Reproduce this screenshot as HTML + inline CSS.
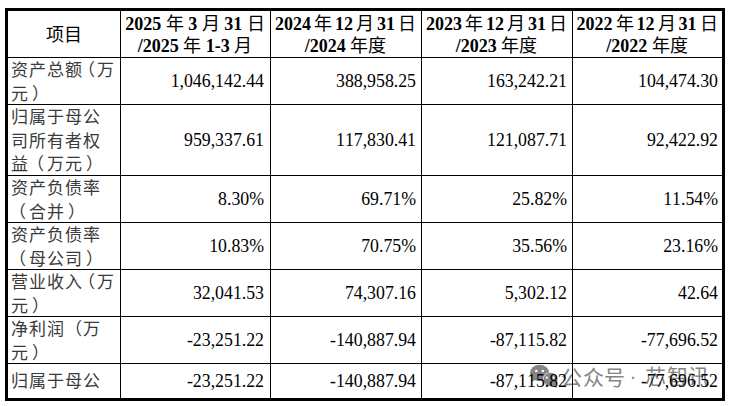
<!DOCTYPE html>
<html lang="zh-CN"><head><meta charset="utf-8">
<style>
html,body{margin:0;padding:0;background:#fff;width:730px;height:406px;overflow:hidden;position:relative}
body{font-family:"Liberation Serif",serif;color:#000}
.b{position:absolute;background:#000}
.n{position:absolute;white-space:pre;font-size:17.8px;font-kerning:none;line-height:20px;text-align:right;width:160px}
.l{position:absolute;left:11px;font-size:17px;letter-spacing:1px;line-height:24px;white-space:pre;color:#3a3a3a}
.p{margin-right:-4px;position:relative;left:-5px}
.po{position:relative;left:-2px}
.pc{position:relative;left:3px}
.wm{position:absolute;font-family:"Liberation Sans",sans-serif;color:#858585;font-size:21px;line-height:24px;white-space:pre}
.h{position:absolute;font-weight:bold;font-size:18px;line-height:22px;text-align:center;white-space:pre;word-spacing:0px}
.hc{font-weight:normal;font-size:18px}
</style></head><body>

<svg style="position:absolute;left:0;top:0" width="730" height="406" viewBox="0 0 730 406">
<ellipse cx="539.6" cy="373" rx="9.6" ry="8.2" fill="#858585"/>
<path d="M532.5 377 L531 382 L536.5 379.5 Z" fill="#858585"/>
<circle cx="536.3" cy="371" r="1.3" fill="#fff"/><circle cx="542.9" cy="371" r="1.3" fill="#fff"/>
<ellipse cx="550.5" cy="379.5" rx="7.6" ry="7.2" fill="#fff"/>
<ellipse cx="550.5" cy="379.5" rx="7" ry="6.7" fill="#858585"/>
<path d="M555 384 L557 388 L552 386 Z" fill="#858585"/>
<circle cx="546.8" cy="377.7" r="1.1" fill="#fff"/><circle cx="553.6" cy="377.7" r="1.1" fill="#fff"/>
</svg>
<div class="wm" style="left:561px;top:365.5px;letter-spacing:0.5px">公众号</div>
<div class="wm" style="left:629.5px;top:364px">·</div>
<div class="wm" style="left:645px;top:365px;letter-spacing:0.5px">芯智讯</div>
<div class="b" style="left:5px;top:8px;width:720px;height:3px"></div>
<div class="b" style="left:5px;top:398px;width:720px;height:3px"></div>
<div class="b" style="left:5px;top:8px;width:3px;height:393px"></div>
<div class="b" style="left:722px;top:8px;width:3px;height:393px"></div>
<div class="b" style="left:120px;top:11px;width:1px;height:387px"></div>
<div class="b" style="left:270px;top:11px;width:1px;height:387px"></div>
<div class="b" style="left:421px;top:11px;width:1px;height:387px"></div>
<div class="b" style="left:572px;top:11px;width:1px;height:387px"></div>
<div class="b" style="left:8px;top:57px;width:714px;height:1px"></div>
<div class="b" style="left:8px;top:104px;width:714px;height:1px"></div>
<div class="b" style="left:8px;top:175px;width:714px;height:1px"></div>
<div class="b" style="left:8px;top:222px;width:714px;height:1px"></div>
<div class="b" style="left:8px;top:269px;width:714px;height:1px"></div>
<div class="b" style="left:8px;top:316px;width:714px;height:1px"></div>
<div class="b" style="left:8px;top:363px;width:714px;height:1px"></div>
<div class="h" style="left:8px;top:23.7px;width:112px"><span class="hc">项目</span></div>
<div class="h" style="left:120px;top:12.5px;width:150px;word-spacing:0.0px">2025 <span class="hc">年</span> 3 <span class="hc">月</span> 31 <span class="hc">日</span></div>
<div class="h" style="left:120px;top:34.8px;width:150px">/2025 <span class="hc">年</span> 1-3 <span class="hc">月</span></div>
<div class="h" style="left:270px;top:12.5px;width:151px;word-spacing:-1.5px">2024 <span class="hc">年</span> 12 <span class="hc">月</span> 31 <span class="hc">日</span></div>
<div class="h" style="left:270px;top:34.8px;width:151px">/2024 <span class="hc">年度</span></div>
<div class="h" style="left:421px;top:12.5px;width:151px;word-spacing:-1.5px">2023 <span class="hc">年</span> 12 <span class="hc">月</span> 31 <span class="hc">日</span></div>
<div class="h" style="left:421px;top:34.8px;width:151px">/2023 <span class="hc">年度</span></div>
<div class="h" style="left:572px;top:12.5px;width:150px;word-spacing:-1.5px">2022 <span class="hc">年</span> 12 <span class="hc">月</span> 31 <span class="hc">日</span></div>
<div class="h" style="left:572px;top:34.8px;width:150px">/2022 <span class="hc">年度</span></div>
<div class="l" style="top:59.0px">资产总额<span class="p">（</span>万</div>
<div class="l" style="top:82.7px">元<span class=pc>）</span></div>
<div class="n" style="left:104px;top:71.0px">1,046,142.44</div>
<div class="n" style="left:256px;top:71.0px">388,958.25</div>
<div class="n" style="left:407px;top:71.0px">163,242.21</div>
<div class="n" style="left:558px;top:71.0px">104,474.30</div>
<div class="l" style="top:106.0px">归属于母公</div>
<div class="l" style="top:129.7px">司所有者权</div>
<div class="l" style="top:153.4px">益<span class=po>（</span>万元<span class=pc>）</span></div>
<div class="n" style="left:104px;top:130.0px">959,337.61</div>
<div class="n" style="left:256px;top:130.0px">117,830.41</div>
<div class="n" style="left:407px;top:130.0px">121,087.71</div>
<div class="n" style="left:558px;top:130.0px">92,422.92</div>
<div class="l" style="top:177.0px">资产负债率</div>
<div class="l" style="top:200.7px"><span class=po>（</span>合并<span class=pc>）</span></div>
<div class="n" style="left:104px;top:189.0px">8.30%</div>
<div class="n" style="left:256px;top:189.0px">69.71%</div>
<div class="n" style="left:407px;top:189.0px">25.82%</div>
<div class="n" style="left:558px;top:189.0px">11.54%</div>
<div class="l" style="top:224.0px">资产负债率</div>
<div class="l" style="top:247.7px"><span class=po>（</span>母公司<span class=pc>）</span></div>
<div class="n" style="left:104px;top:236.0px">10.83%</div>
<div class="n" style="left:256px;top:236.0px">70.75%</div>
<div class="n" style="left:407px;top:236.0px">35.56%</div>
<div class="n" style="left:558px;top:236.0px">23.16%</div>
<div class="l" style="top:271.0px">营业收入<span class="p">（</span>万</div>
<div class="l" style="top:294.7px">元<span class=pc>）</span></div>
<div class="n" style="left:104px;top:283.0px">32,041.53</div>
<div class="n" style="left:256px;top:283.0px">74,307.16</div>
<div class="n" style="left:407px;top:283.0px">5,302.12</div>
<div class="n" style="left:558px;top:283.0px">42.64</div>
<div class="l" style="top:318.0px">净利润（万</div>
<div class="l" style="top:341.7px">元<span class=pc>）</span></div>
<div class="n" style="left:104px;top:330.0px">-23,251.22</div>
<div class="n" style="left:256px;top:330.0px">-140,887.94</div>
<div class="n" style="left:407px;top:330.0px">-87,115.82</div>
<div class="n" style="left:558px;top:330.0px">-77,696.52</div>
<div class="l" style="top:370.0px">归属于母公</div>
<div class="n" style="left:104px;top:371.0px">-23,251.22</div>
<div class="n" style="left:256px;top:371.0px">-140,887.94</div>
<div class="n" style="left:407px;top:371.0px">-87,115.82</div>
<div class="n" style="left:558px;top:371.0px">-77,696.52</div>
</body></html>
